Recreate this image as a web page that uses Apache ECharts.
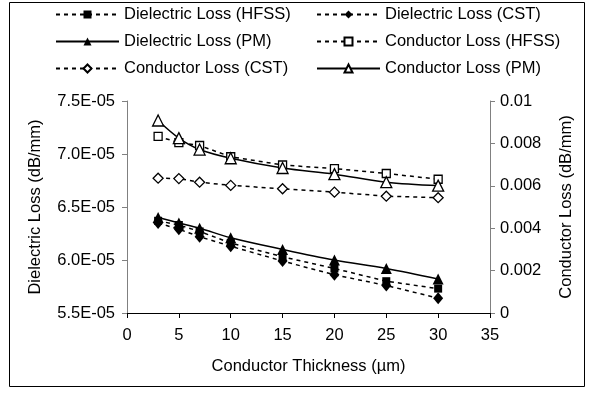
<!DOCTYPE html>
<html>
<head>
<meta charset="utf-8">
<script src="https://cdn.jsdelivr.net/npm/echarts@6/dist/echarts.min.js"></script>
<style>
html,body{margin:0;padding:0;background:#fff;}
#c{width:592px;height:393px;}
</style>
</head>
<body>
<div id="c"></div>
<script>
// Conductor thickness (µm)
const thickness = [3, 5, 7, 10, 15, 20, 25, 30];
// Dielectric loss (dB/mm), left axis
const dielHFSS = [6.37e-5, 6.33e-5, 6.27e-5, 6.16e-5, 6.03e-5, 5.92e-5, 5.80e-5, 5.73e-5];
const dielCST  = [6.35e-5, 6.29e-5, 6.22e-5, 6.13e-5, 5.99e-5, 5.86e-5, 5.76e-5, 5.64e-5];
const dielPM   = [6.40e-5, 6.35e-5, 6.30e-5, 6.21e-5, 6.10e-5, 6.00e-5, 5.92e-5, 5.82e-5];
// Conductor loss (dB/mm), right axis
const condHFSS = [0.00833, 0.00804, 0.00790, 0.00737, 0.00698, 0.00681, 0.00658, 0.00631];
const condCST  = [0.00636, 0.00634, 0.00617, 0.00602, 0.00586, 0.00570, 0.00551, 0.00544];
const condPM   = [0.00908, 0.00825, 0.00771, 0.00730, 0.00684, 0.00655, 0.00617, 0.00601];
// Axis settings
const xTicks = {min: 0, max: 35, interval: 5};
const leftTicks = {min: 5.5e-5, max: 7.5e-5, interval: 0.5e-5};
const rightTicks = {min: 0, max: 0.01, interval: 0.002};
const names = {
  dHFSS: 'Dielectric Loss (HFSS)', dCST: 'Dielectric Loss (CST)', dPM: 'Dielectric Loss (PM)',
  cHFSS: 'Conductor Loss (HFSS)', cCST: 'Conductor Loss (CST)', cPM: 'Conductor Loss (PM)'
};

const FONT = '"Liberation Sans", Arial, sans-serif';
const FS = 16.5;
const pair = (xs, ys) => xs.map((x, i) => [x, ys[i]]);

function mk(name, data, yIdx, symbol, filled, dashed, smooth) {
  let size = 8;
  if (symbol === 'triangle') size = 11;
  if (symbol === 'diamond') size = filled ? [10, 12] : 10;
  return {
    name, type: 'line', yAxisIndex: yIdx, data: pair(thickness, data),
    symbol, symbolSize: size,
    smooth: smooth ? 0.35 : false,
    showAllSymbol: true,
    lineStyle: {color: '#000', width: 1.5, type: dashed ? [4, 4] : 'solid'},
    itemStyle: {color: filled ? '#000' : '#fff', borderColor: '#000', borderWidth: filled ? 0 : 1.3},
    emphasis: {disabled: true},
    animation: false
  };
}

const chart = echarts.init(document.getElementById('c'), null, {renderer: 'canvas'});
const legendCommon = {
  orient: 'vertical', top: 6, padding: 0, itemWidth: 63, itemHeight: 10, itemGap: 10,
  textStyle: {fontFamily: FONT, fontSize: FS, color: '#000'},
  selectedMode: false
};
chart.setOption({
  animation: false,
  backgroundColor: '#fff',
  graphic: [{type: 'rect', shape: {x: 9.5, y: 2.5, width: 575, height: 384},
    style: {fill: 'none', stroke: '#000', lineWidth: 1}, silent: true, z: -1}],
  legend: [
    Object.assign({}, legendCommon, {left: 55, data: [names.dHFSS, names.dPM, names.cCST]}),
    Object.assign({}, legendCommon, {left: 316, data: [names.dCST, names.cHFSS, names.cPM]})
  ],
  grid: {left: 127, right: 102, top: 101, bottom: 80, containLabel: false},
  xAxis: {
    type: 'value', min: xTicks.min, max: xTicks.max, interval: xTicks.interval,
    name: 'Conductor Thickness (µm)', nameLocation: 'middle', nameGap: 45,
    nameTextStyle: {fontFamily: FONT, fontSize: FS, color: '#000'},
    axisLine: {onZero: false, lineStyle: {color: '#000', width: 1}},
    axisTick: {show: true, length: 5, lineStyle: {color: '#000'}},
    axisLabel: {fontFamily: FONT, fontSize: FS, color: '#000', margin: 14},
    splitLine: {show: false}
  },
  yAxis: [
    {
      type: 'value', position: 'left', min: leftTicks.min, max: leftTicks.max, interval: leftTicks.interval,
      name: 'Dielectric Loss (dB/mm)', nameLocation: 'middle', nameGap: 83, nameRotate: 90,
      nameTextStyle: {fontFamily: FONT, fontSize: FS, color: '#000'},
      axisLine: {show: true, lineStyle: {color: '#808080', width: 1}},
      axisTick: {show: true, length: 5, lineStyle: {color: '#808080'}},
      axisLabel: {fontFamily: FONT, fontSize: FS, color: '#000', margin: 12,
        formatter: v => (v * 1e5).toFixed(1) + 'E-05'},
      splitLine: {show: false}
    },
    {
      type: 'value', position: 'right', min: rightTicks.min, max: rightTicks.max, interval: rightTicks.interval,
      name: 'Conductor Loss (dB/mm)', nameLocation: 'middle', nameGap: 68, nameRotate: 90,
      nameTextStyle: {fontFamily: FONT, fontSize: FS, color: '#000'},
      axisLine: {show: true, lineStyle: {color: '#808080', width: 1}},
      axisTick: {show: true, length: 5, lineStyle: {color: '#808080'}},
      axisLabel: {fontFamily: FONT, fontSize: FS, color: '#000', margin: 10,
        formatter: v => String(parseFloat(v.toFixed(4)))},
      splitLine: {show: false}
    }
  ],
  series: [
    mk(names.dHFSS, dielHFSS, 0, 'rect', true, true, false),
    mk(names.dCST, dielCST, 0, 'diamond', true, true, false),
    mk(names.dPM, dielPM, 0, 'triangle', true, false, true),
    mk(names.cHFSS, condHFSS, 1, 'rect', false, true, false),
    mk(names.cCST, condCST, 1, 'diamond', false, true, false),
    mk(names.cPM, condPM, 1, 'triangle', false, false, true)
  ]
});
</script>
</body>
</html>
